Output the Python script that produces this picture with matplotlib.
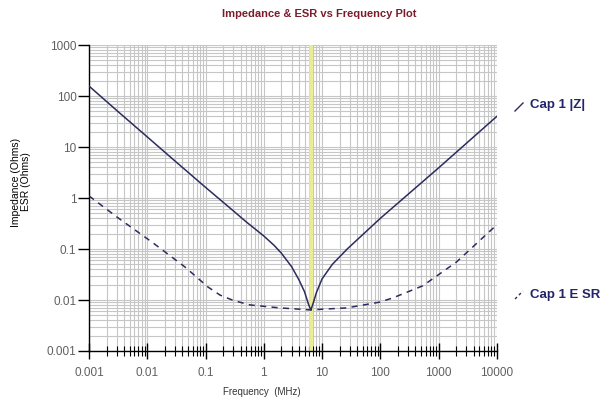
import matplotlib
matplotlib.use("Agg")
import matplotlib.pyplot as plt
from matplotlib.lines import Line2D
from matplotlib.ticker import LogLocator, FixedLocator, NullFormatter

plt.rcParams['font.family'] = ['Liberation Sans', 'DejaVu Sans']

# values
freq_z = [0.001, 0.003, 0.01, 0.03, 0.1, 0.3, 0.5, 0.7, 1, 1.5, 2, 3, 4, 5,
          5.8, 6.4, 7.0, 8.0, 10, 15, 27, 100, 1000, 10000]
z_mag = [157, 52, 15.8, 5.3, 1.62, 0.56, 0.34, 0.25, 0.18, 0.118, 0.083,
         0.045, 0.025, 0.0145, 0.0085, 0.0063, 0.0085, 0.014, 0.026, 0.05,
         0.1, 0.4, 3.9, 40]

freq_esr = [0.001, 0.00314, 0.012, 0.0444, 0.11, 0.177, 0.3, 0.58, 1.89,
            6.2, 26.6, 98, 164, 536, 2040, 10000]
esr = [1.1, 0.41, 0.137, 0.0444, 0.018, 0.0125, 0.0098, 0.008, 0.007,
       0.0064, 0.0070, 0.0091, 0.011, 0.019, 0.056, 0.3]

resonance = 6.4   # MHz, yellow marker
x_ticks = [0.001, 0.01, 0.1, 1, 10, 100, 1000, 10000]
x_labels = ['0.001', '0.01', '0.1', '1', '10', '100', '1000', '10000']
y_ticks = [0.001, 0.01, 0.1, 1, 10, 100, 1000]
y_labels = ['0.001', '0.01', '0.1', '1', '10', '100', '1000']

line_col = '#2c2c5e'
text_col = '#24246a'
grid_col = '#c6c6c6'
tick_col = '#606060'

fig = plt.figure(figsize=(6.07, 4.01), dpi=100)
ax = fig.add_axes([0.1466, 0.1247, 0.672, 0.763])

ax.set_xscale('log')
ax.set_yscale('log')
ax.set_xlim(0.001, 10000)
ax.set_ylim(0.001, 1000)

ax.axvline(resonance, color='#ecec8c', lw=2.6, zorder=1)
ax.plot(freq_z, z_mag, color=line_col, lw=1.1, zorder=3)
ax.plot(freq_esr, esr, color=line_col, lw=1.1, ls=(0, (4, 3.5)), zorder=3)

ax.xaxis.set_major_locator(FixedLocator(x_ticks))
ax.set_xticklabels(x_labels)
ax.yaxis.set_major_locator(FixedLocator(y_ticks))
ax.set_yticklabels(y_labels)
ax.xaxis.set_minor_locator(LogLocator(base=10, subs=range(2, 10), numticks=20))
ax.yaxis.set_minor_locator(LogLocator(base=10, subs=range(2, 10), numticks=20))
ax.xaxis.set_minor_formatter(NullFormatter())
ax.yaxis.set_minor_formatter(NullFormatter())

ax.grid(True, which='both', color=grid_col, lw=0.8, zorder=0)
ax.set_axisbelow(True)

for s in ['top', 'right']:
    ax.spines[s].set_visible(False)
for s in ['left', 'bottom']:
    ax.spines[s].set_color('black')
    ax.spines[s].set_linewidth(1.0)

ax.tick_params(axis='x', which='major', direction='inout', length=11,
               width=1.0, colors='black', labelcolor=tick_col, labelsize=8.5, pad=6)
ax.tick_params(axis='x', which='minor', direction='inout', length=7,
               width=0.8, colors='black')
ax.tick_params(axis='y', which='major', direction='out', length=8,
               width=1.0, colors='black', labelcolor=tick_col, labelsize=8.5, pad=1)
ax.tick_params(axis='y', which='minor', length=0)

fig.text(319 / 607, 1 - 14 / 401, 'Impedance & ESR vs Frequency Plot',
         ha='center', va='center', fontsize=8, fontweight='bold', color='#7a1c2c')
fig.text(262 / 607, 1 - 392 / 401, 'Frequency  (MHz)', ha='center', va='center',
         fontsize=7, color='#333333')
fig.text(21 / 607, 1 - 182 / 401, 'Impedance (Ohms)\nESR (Ohms)', ha='center',
         va='center', rotation=90, fontsize=7.5, color='black', linespacing=1.1)

# legend entries at the right side
fig.add_artist(Line2D([515 / 607, 523 / 607], [1 - 111 / 401, 1 - 103 / 401],
                      color=line_col, lw=1.0))
fig.text(530 / 607, 1 - 105 / 401, 'Cap 1 |Z|', ha='left', va='center',
         fontsize=9.5, fontweight='bold', color=text_col)
fig.add_artist(Line2D([515 / 607, 523 / 607], [1 - 299 / 401, 1 - 291 / 401],
                      color=line_col, lw=1.0, ls=(0, (2, 2))))
fig.text(530 / 607, 1 - 295 / 401, 'Cap 1 E SR', ha='left', va='center',
         fontsize=9.5, fontweight='bold', color=text_col)

fig.savefig('out.png', dpi=100)
